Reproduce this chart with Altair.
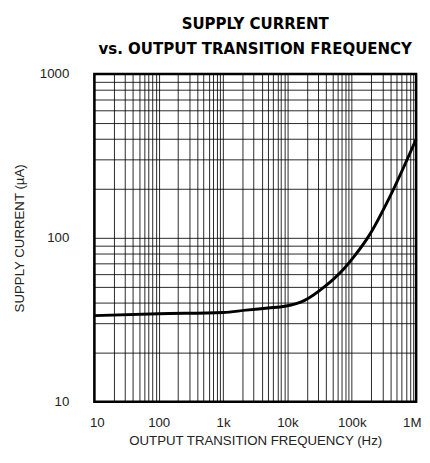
import altair as alt
import pandas as pd

# Curve (Hz, µA)
freq = [10, 100, 1000, 2270, 5000, 9200, 18500, 37000, 75000, 106000, 191000, 385000, 1000000]
current = [33.5, 34.4, 35.0, 36.2, 37.3, 38.2, 41.5, 50.0, 64.6, 76.0, 105.0, 176.0, 400.0]

x_major = [10, 100, 1000, 10000, 100000, 1000000]
x_labels = ["10", "100", "1k", "10k", "100k", "1M"]
y_major = [10, 100, 1000]
y_labels = ["10", "100", "1000"]

x_grid = [m * d for d in x_major[:-1] for m in range(1, 10)] + [x_major[-1]]
y_grid = [m * d for d in y_major[:-1] for m in range(1, 10)] + [y_major[-1]]


def label_expr(vals, labs):
    s = "''"
    for v, l in reversed(list(zip(vals, labs))):
        s = f"datum.value == {v} ? '{l}' : ({s})"
    return s


df = pd.DataFrame({"f": freq, "i": current})

FONT = "Liberation Sans"
TFONT = "DejaVu Sans Condensed"

chart = alt.Chart(df).mark_line(
    color="black", strokeWidth=3, interpolate="monotone"
).encode(
    x=alt.X("f:Q",
            scale=alt.Scale(type="log", domain=[10, 1000000], nice=False),
            axis=alt.Axis(values=x_grid, labelExpr=label_expr(x_major, x_labels),
                          title="OUTPUT TRANSITION FREQUENCY (Hz)",
                          grid=True, gridColor="black", gridOpacity=0.85, gridWidth=1,
                          ticks=False, tickSize=0, domain=False,
                          labelFont=FONT, labelFontSize=13.5, labelColor="#222",
                          labelPadding=14, labelOverlap=False,
                          labelFlush=True, labelFlushOffset=5,
                          titleFont=FONT, titleFontSize=13.5, titleFontWeight="normal",
                          titleColor="#222", titlePadding=5)),
    y=alt.Y("i:Q",
            scale=alt.Scale(type="log", domain=[10, 1000], nice=False),
            axis=alt.Axis(values=y_grid, labelExpr=label_expr(y_major, y_labels),
                          title="SUPPLY CURRENT (µA)",
                          grid=True, gridColor="black", gridOpacity=0.85, gridWidth=1,
                          ticks=False, tickSize=0, domain=False,
                          labelFont=FONT, labelFontSize=13.5, labelColor="#222",
                          labelPadding=26, labelOverlap=False, labelFlush=False,
                          titleFont=FONT, titleFontSize=13.5, titleFontWeight="normal",
                          titleColor="#222", titlePadding=13)),
).properties(
    width=422,
    height=443,
    autosize=alt.AutoSizeParams(type="fit", contains="padding"),
    title=alt.TitleParams(
        text=["SUPPLY CURRENT", "vs. OUTPUT TRANSITION FREQUENCY"],
        font=TFONT, fontSize=17, fontWeight="bold", color="black",
        lineHeight=25, anchor="middle", frame="group", offset=9.5,
    ),
    padding={"left": 4, "top": 3, "right": 0, "bottom": 0},
).configure_view(
    stroke="black", strokeWidth=2.5
)

chart.save("out.html", embed_options={"renderer": "svg", "actions": False})
